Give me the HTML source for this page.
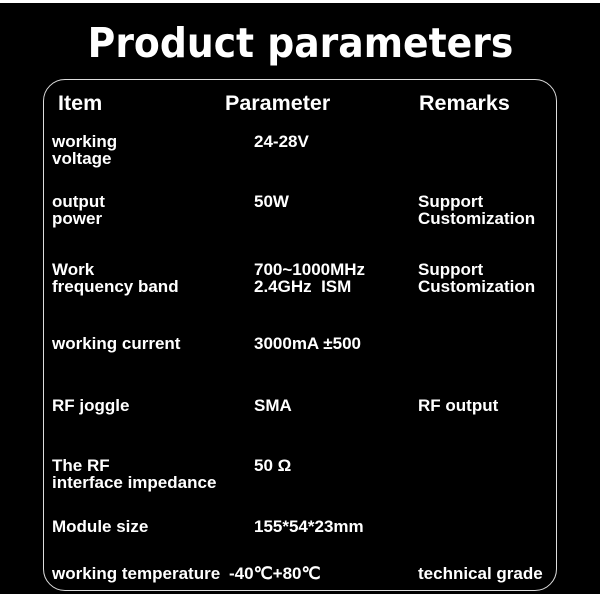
<!DOCTYPE html>
<html><head><style>
body{margin:0;width:600px;height:600px;background:#fff;position:relative;overflow:hidden;font-family:"Liberation Sans",Arial,sans-serif;color:#fff}
#bg{position:absolute;left:0;top:3px;width:600px;height:591px;background:#000}
#box{position:absolute;left:43px;top:79px;width:512px;height:510px;border:1.5px solid #ddd;border-radius:22px}
.t{position:absolute;font-weight:bold;font-size:17px;line-height:16.5px;white-space:nowrap}
.h{font-size:21.5px;line-height:22px}
h1{position:absolute;margin:0;left:0;width:600px;top:19px;text-align:center;font-size:41px;font-family:"DejaVu Sans",sans-serif;font-weight:bold;transform:scaleX(0.92);transform-origin:306px 0}
</style></head><body>
<div id="bg"></div>
<h1>Product parameters</h1>
<div id="box"></div>
<div class="t h" style="left:58px;top:92px">Item</div>
<div class="t h" style="left:225px;top:92px">Parameter</div>
<div class="t h" style="left:419px;top:92px">Remarks</div>

<div class="t" style="left:52px;top:134px">working<br>voltage</div>
<div class="t" style="left:254px;top:134px">24-28V</div>

<div class="t" style="left:52px;top:194px">output<br>power</div>
<div class="t" style="left:254px;top:194px">50W</div>
<div class="t" style="left:418px;top:194px">Support<br>Customization</div>

<div class="t" style="left:52px;top:262px">Work<br>frequency band</div>
<div class="t" style="left:254px;top:262px">700~1000MHz<br>2.4GHz&nbsp; ISM</div>
<div class="t" style="left:418px;top:262px">Support<br>Customization</div>

<div class="t" style="left:52px;top:336px">working current</div>
<div class="t" style="left:254px;top:336px">3000mA ±500</div>

<div class="t" style="left:52px;top:398px">RF joggle</div>
<div class="t" style="left:254px;top:398px">SMA</div>
<div class="t" style="left:418px;top:398px">RF output</div>

<div class="t" style="left:52px;top:458px">The RF<br>interface impedance</div>
<div class="t" style="left:254px;top:458px">50 Ω</div>

<div class="t" style="left:52px;top:519px">Module size</div>
<div class="t" style="left:254px;top:519px">155*54*23mm</div>

<div class="t" style="left:52px;top:566px">working temperature</div>
<div class="t" style="left:229px;top:566px">-40℃+80℃</div>
<div class="t" style="left:418px;top:566px">technical grade</div>
</body></html>
